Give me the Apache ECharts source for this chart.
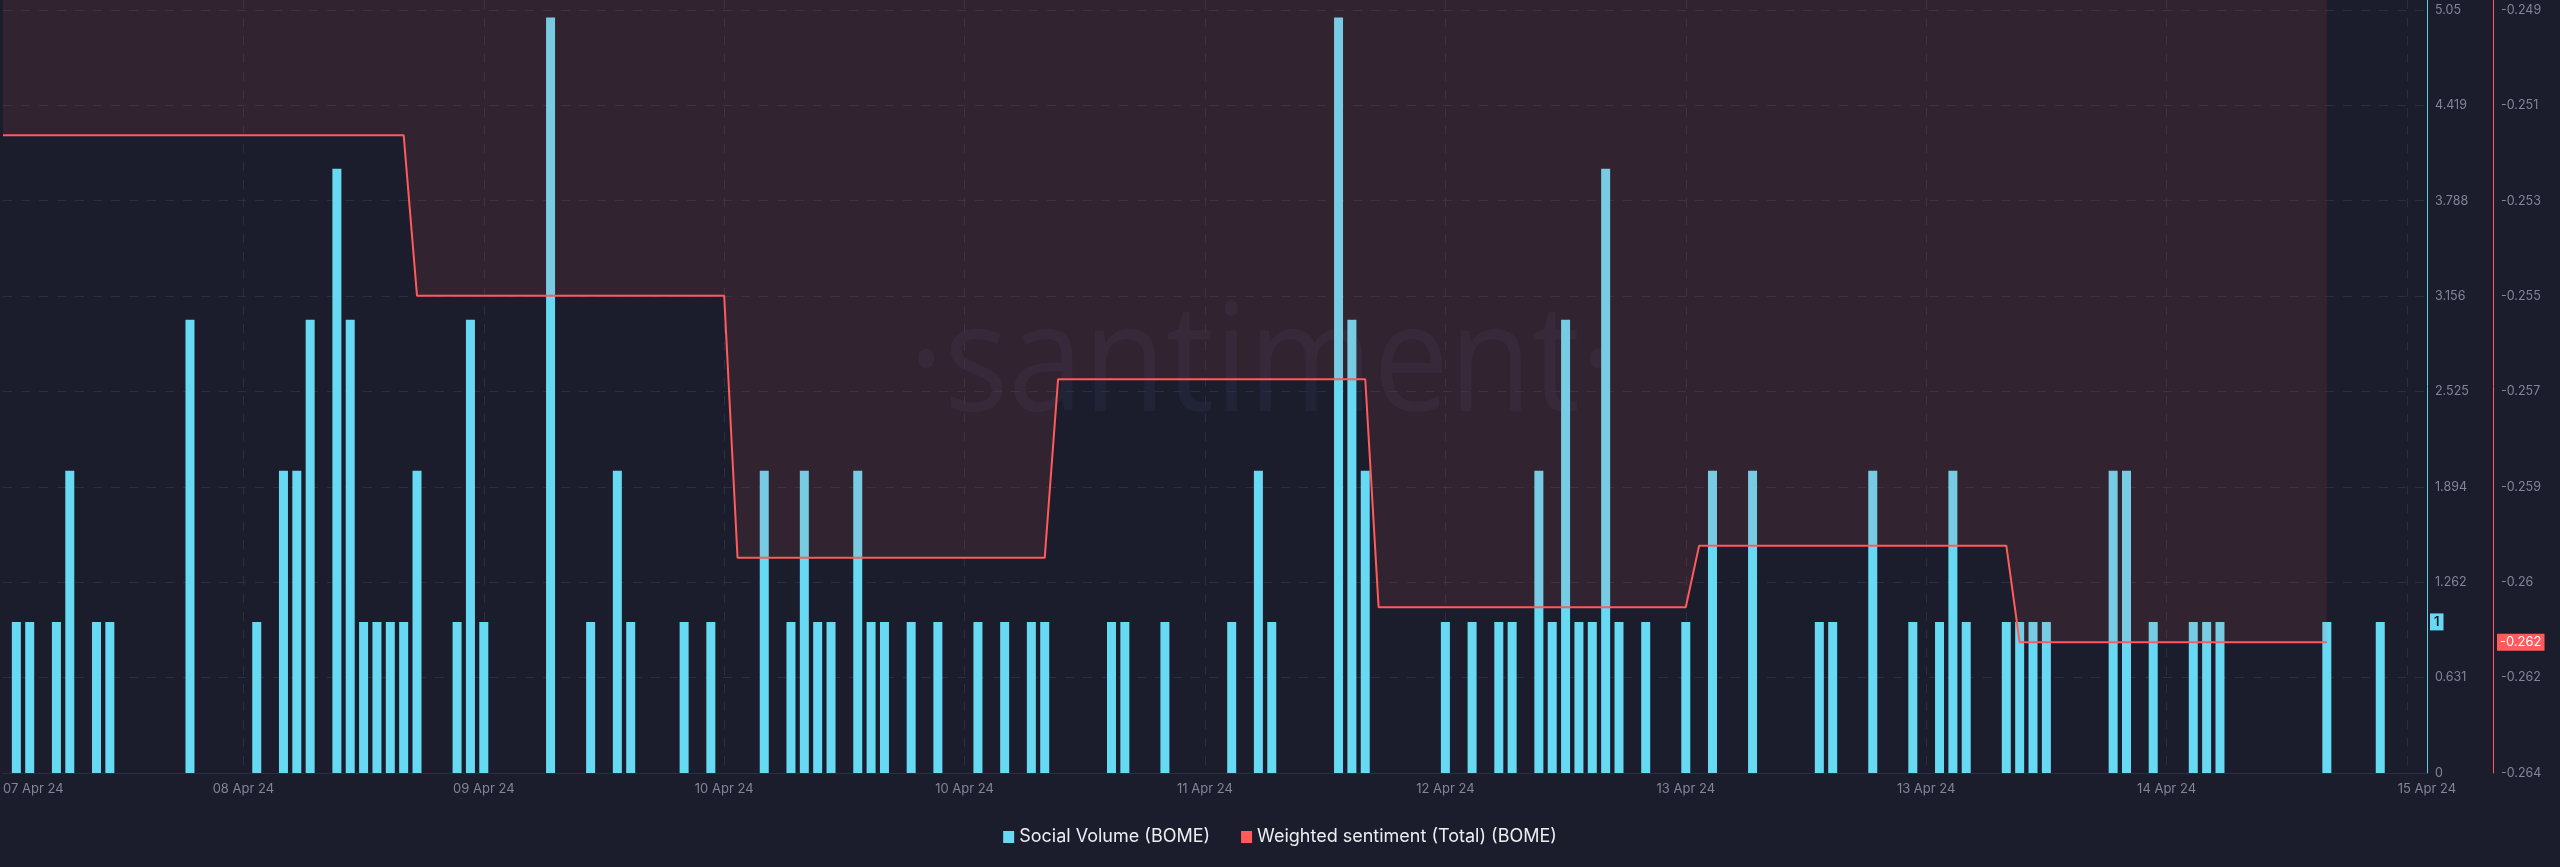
<!DOCTYPE html>
<html>
<head>
<meta charset="utf-8">
<script src="https://cdn.jsdelivr.net/npm/echarts@6/dist/echarts.min.js"></script>
<style>
html, body { margin: 0; padding: 0; background: #1b1d2c; }
#c { width: 2560px; height: 867px; }
</style>
</head>
<body>
<div id="c"></div>
<script>
// ---- data (hour index from the start of the window) ----
// labels every 18 hours; the last one sits at the end of the axis
const xTickLabels = ['07 Apr 24', '08 Apr 24', '09 Apr 24', '10 Apr 24', '10 Apr 24', '11 Apr 24',
                     '12 Apr 24', '13 Apr 24', '13 Apr 24', '14 Apr 24', '15 Apr 24'];
const xTickStepHours = 18;
const hoursShown = 181.5;

// hourly social volume, hour 0 .. 181
const socialVolume = [
  0, 1, 1, 0, 1, 2, 0, 1, 1, 0,
  0, 0, 0, 0, 3, 0, 0, 0, 0, 1,
  0, 2, 2, 3, 0, 4, 3, 1, 1, 1,
  1, 2, 0, 0, 1, 3, 1, 0, 0, 0,
  0, 5, 0, 0, 1, 0, 2, 1, 0, 0,
  0, 1, 0, 1, 0, 0, 0, 2, 0, 1,
  2, 1, 1, 0, 2, 1, 1, 0, 1, 0,
  1, 0, 0, 1, 0, 1, 0, 1, 1, 0,
  0, 0, 0, 1, 1, 0, 0, 1, 0, 0,
  0, 0, 1, 0, 2, 1, 0, 0, 0, 0,
  5, 3, 2, 0, 0, 0, 0, 0, 1, 0,
  1, 0, 1, 1, 0, 2, 1, 3, 1, 1,
  4, 1, 0, 1, 0, 0, 1, 0, 2, 0,
  0, 2, 0, 0, 0, 0, 1, 1, 0, 0,
  2, 0, 0, 1, 0, 1, 2, 1, 0, 0,
  1, 1, 1, 1, 0, 0, 0, 0, 2, 2,
  0, 1, 0, 0, 1, 1, 1, 0, 0, 0,
  0, 0, 0, 0, 1, 0, 0, 0, 1, 0,
  0, 0
];

// weighted sentiment: one level per day, with the hour each level starts
const sentimentLevels    = [-0.25146, -0.25462, -0.25977, -0.25626, -0.26074, -0.25953, -0.26143];
const sentimentStartHour = [0, 31, 55, 79, 103, 127, 151];
const sentimentLastHour  = 174;

// axis tick labels (bottom to top)
const volumeTickLabels    = ['0', '0.631', '1.262', '1.894', '2.525', '3.156', '3.788', '4.419', '5.05'];
const sentimentTickLabels = ['-0.264', '-0.262', '-0.26', '-0.259', '-0.257', '-0.255', '-0.253', '-0.251', '-0.249'];
const volumeBottom = 0, volumeTop = 5.05;
const sentimentBottom = -0.264, sentimentTop = -0.249;

// last-value badges
const volumeBadge = '1';
const sentimentBadge = '-0.262';

// ---- layout ----
const plotH = 773, topPad = 10;
const volInterval = (volumeTop - volumeBottom) / 8;
const volMax = volumeTop + (volumeTop - volumeBottom) * topPad / (plotH - topPad);
const sentInterval = (sentimentTop - sentimentBottom) / 8;
const sentMax = sentimentTop + (sentimentTop - sentimentBottom) * topPad / (plotH - topPad);

const volData = [];
socialVolume.forEach((v, i) => { if (v > 0) volData.push([i, v]); });

const sentData = [];
sentimentLevels.forEach((v, k) => {
  const s = sentimentStartHour[k];
  const e = k + 1 < sentimentStartHour.length ? sentimentStartHour[k + 1] - 1 : sentimentLastHour;
  sentData.push([s, v]);
  sentData.push([e, v]);
});

const sentCustom = sentimentTickLabels.map((_, k) => sentimentBottom + k * sentInterval);
const lastVolume = volData[volData.length - 1][1];
const lastSentiment = sentimentLevels[sentimentLevels.length - 1];

const labelFont = 'Inter, "Liberation Sans", sans-serif';
const gridLine = '#2b2e40';

const chart = echarts.init(document.getElementById('c'), null, { renderer: 'canvas' });
chart.setOption({
  backgroundColor: '#1b1d2c',
  animation: false,
  textStyle: { fontFamily: labelFont },
  graphic: [{
    type: 'text',
    x: 1262, y: 368,
    scaleX: 0.9,
    z: 0,
    silent: true,
    style: {
      text: '\u00b7santiment\u00b7',
      fontSize: 150,
      fontFamily: '"Open Sans", sans-serif',
      fontWeight: 400,
      fill: 'rgba(125,130,185,0.075)',
      align: 'center',
      verticalAlign: 'middle'
    }
  }],
  grid: { left: 0, right: 133, top: 0, bottom: 94, containLabel: false },
  legend: {
    left: 'center',
    top: 823,
    itemWidth: 11,
    itemHeight: 12,
    itemGap: 31,
    icon: 'rect',
    textStyle: { color: '#eceef2', fontSize: 18, fontFamily: labelFont },
    data: [
      { name: 'Social Volume (BOME)', itemStyle: { color: '#68d9f2' } },
      { name: 'Weighted sentiment (Total) (BOME)', itemStyle: { color: '#ff5b5b' } }
    ]
  },
  xAxis: {
    type: 'value',
    min: 0,
    max: hoursShown,
    interval: xTickStepHours,
    axisPointer: { show: false },
    axisLine: { show: true, onZero: false, lineStyle: { color: '#2b2f41', width: 1 } },
    axisTick: { show: false },
    axisLabel: {
      color: '#80859a',
      fontSize: 13,
      margin: 10,
      alignMinLabel: 'left',
      showMaxLabel: true,
      formatter: (v) => {
        const last = xTickLabels.length - 1;
        if (Math.abs(v - hoursShown) < 1e-6) return xTickLabels[last];
        const k = Math.round(v / xTickStepHours);
        if (Math.abs(v - k * xTickStepHours) < 1e-6 && k < last) return xTickLabels[k];
        return '';
      }
    },
    splitLine: { show: true, showMinLine: false, showMaxLine: false, lineStyle: { color: gridLine, type: [9, 9], width: 1 } }
  },
  yAxis: [
    {
      type: 'value',
      position: 'right',
      min: volumeBottom,
      max: volMax,
      interval: volInterval,
      axisLine: { show: true, onZero: false, lineStyle: { color: '#5ccfe8', width: 1 } },
      axisTick: { show: false },
      axisLabel: {
        color: '#80859a',
        fontSize: 12.5,
        margin: 8,
        formatter: (v) => {
          const k = Math.round((v - volumeBottom) / volInterval);
          if (Math.abs(v - (volumeBottom + k * volInterval)) < 1e-6 && k < volumeTickLabels.length) return volumeTickLabels[k];
          return '';
        }
      },
      splitLine: { show: true, showMinLine: false, showMaxLine: false, lineStyle: { color: gridLine, type: [9, 9], width: 1 } },
      axisPointer: {
        show: true, type: 'none', value: lastVolume, status: 'show', triggerTooltip: false,
        label: {
          show: true, margin: 3, backgroundColor: '#68d9f2', color: '#111522',
          fontSize: 13, fontWeight: 600, padding: [2, 4, 2, 4], borderRadius: 0,
          formatter: () => volumeBadge
        }
      }
    },
    {
      type: 'value',
      position: 'right',
      offset: 66,
      min: sentimentBottom,
      max: sentMax,
      axisLine: { show: true, onZero: false, lineStyle: { color: '#ff5b5b', width: 1 } },
      axisTick: { show: false },
      splitLine: { show: false },
      axisLabel: {
        color: '#80859a',
        fontSize: 12.5,
        margin: 8,
        customValues: sentCustom,
        formatter: (v) => {
          const k = Math.round((v - sentimentBottom) / sentInterval);
          if (Math.abs(v - (sentimentBottom + k * sentInterval)) < 1e-7 && k >= 0 && k < sentimentTickLabels.length) return sentimentTickLabels[k];
          return '';
        }
      },
      axisPointer: {
        show: true, type: 'none', value: lastSentiment, status: 'show', triggerTooltip: false,
        label: {
          show: true, margin: 4, backgroundColor: '#ff5b5b', color: '#ffffff',
          fontSize: 13, padding: [2, 3, 2, 3], borderRadius: 0,
          formatter: () => sentimentBadge
        }
      }
    }
  ],
  series: [
    {
      type: 'bar',
      name: 'Social Volume (BOME)',
      xAxisIndex: 0,
      yAxisIndex: 0,
      data: volData,
      barWidth: 9,
      itemStyle: { color: '#68d9f2' }
    },
    {
      type: 'line',
      name: 'Weighted sentiment (Total) (BOME)',
      xAxisIndex: 0,
      yAxisIndex: 1,
      data: sentData,
      symbol: 'none',
      lineStyle: { color: '#ff5b5b', width: 2 },
      itemStyle: { color: '#ff5b5b' },
      areaStyle: { origin: 'end', color: 'rgba(255,90,90,0.145)' }
    }
  ]
});
</script>
</body>
</html>
